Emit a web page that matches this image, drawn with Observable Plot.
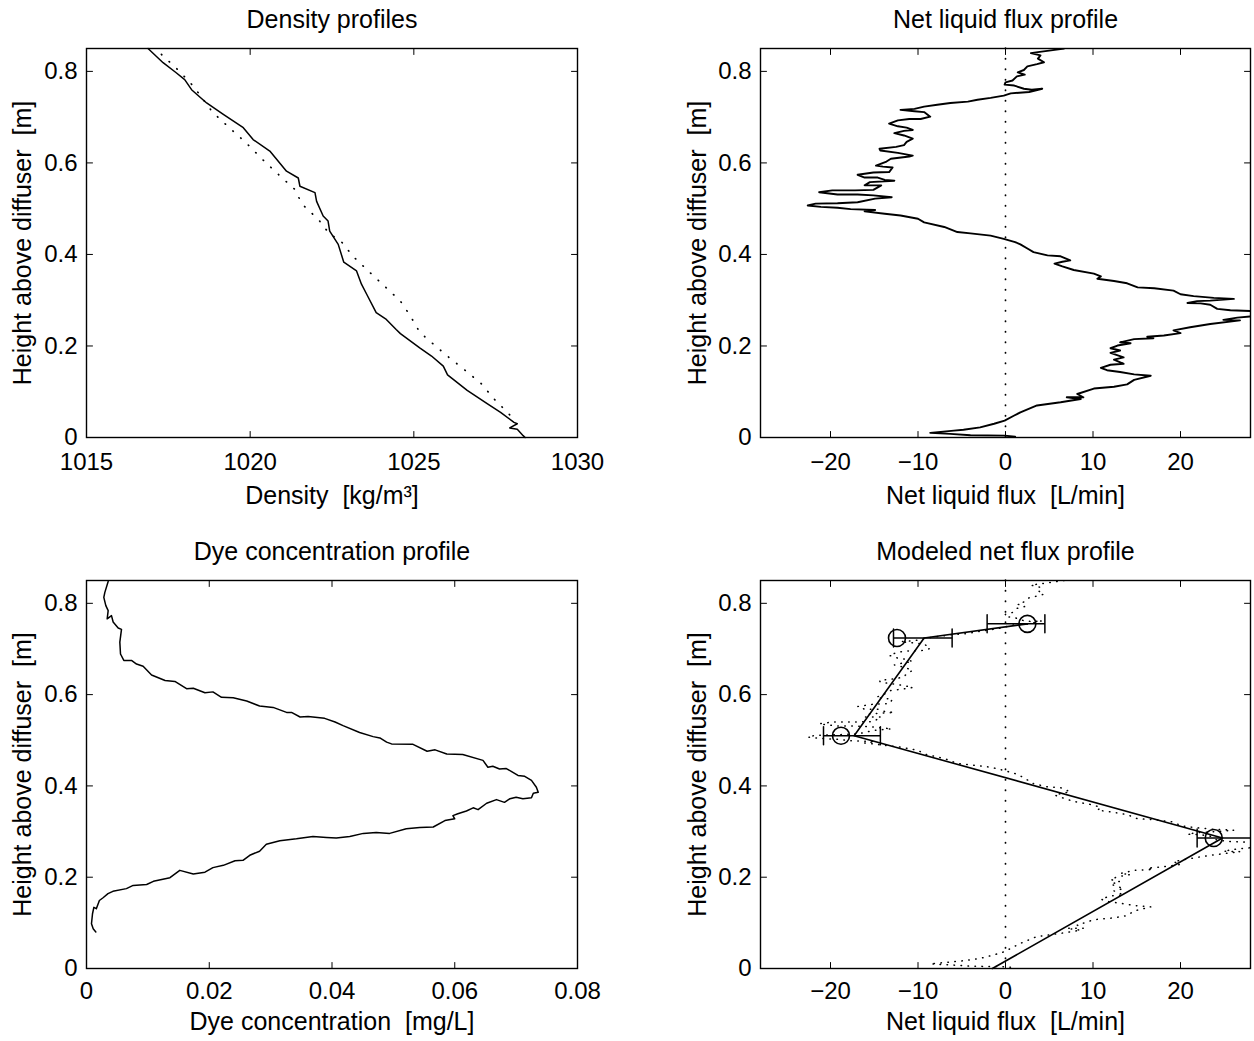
<!DOCTYPE html>
<html><head><meta charset="utf-8">
<script src="https://cdn.jsdelivr.net/npm/d3@7"></script>
<script src="https://cdn.jsdelivr.net/npm/@observablehq/plot@0.6"></script>
<style>
html,body{margin:0;padding:0;background:#fff;}
#wrap{position:relative;width:1254px;height:1041px;overflow:hidden;background:#fff;}
#wrap svg{position:absolute;}
</style></head><body><div id="wrap"></div>
<script>
// ---------- data ----------
// Panel 1: density profiles [density kg/m3, height m]
const densityMeasured = [[1016.88,0.850],[1017.34,0.819],[1017.74,0.797],[1018.00,0.782],[1018.21,0.760],[1018.67,0.731],[1019.18,0.706],[1019.79,0.677],[1020.09,0.651],[1020.60,0.626],[1021.11,0.582],[1021.47,0.567],[1021.52,0.549],[1021.98,0.535],[1022.03,0.516],[1022.23,0.484],[1022.38,0.473],[1022.43,0.451],[1022.69,0.422],[1022.86,0.383],[1023.25,0.364],[1023.40,0.335],[1023.56,0.313],[1023.85,0.273],[1024.16,0.258],[1024.46,0.236],[1024.59,0.227],[1025.18,0.196],[1025.54,0.178],[1025.90,0.156],[1026.03,0.137],[1026.63,0.103],[1027.24,0.074],[1027.65,0.055],[1028.06,0.033],[1028.16,0.030],[1027.93,0.021],[1028.16,0.018],[1028.34,0.004],[1028.40,0.000]];
const densityReference = [[1017.29,0.837],[1017.80,0.803],[1018.26,0.768],[1018.85,0.711],[1019.36,0.677],[1019.86,0.645],[1020.37,0.608],[1020.86,0.575],[1021.35,0.543],[1021.60,0.509],[1022.09,0.476],[1022.43,0.444],[1022.74,0.432],[1023.14,0.396],[1023.62,0.363],[1024.10,0.331],[1024.59,0.298],[1024.90,0.265],[1025.18,0.230],[1025.66,0.200],[1026.09,0.174],[1026.53,0.149],[1027.07,0.117],[1027.44,0.085],[1027.90,0.052],[1028.11,0.033]];

// Panel 2 (and dotted in panel 4): net liquid flux [L/min, height m]
const netFlux = [[6.7,0.850],[5.2,0.846],[3.7,0.842],[2.9,0.840],[4.0,0.835],[3.7,0.828],[4.4,0.820],[3.6,0.816],[2.5,0.811],[2.1,0.803],[1.4,0.798],[2.2,0.793],[1.3,0.789],[0.8,0.780],[0.0,0.776],[-0.1,0.771],[1.0,0.769],[2.1,0.762],[3.0,0.760],[4.2,0.762],[2.7,0.755],[0.6,0.752],[-0.2,0.747],[-1.7,0.742],[-3.2,0.738],[-4.3,0.734],[-6.3,0.731],[-7.8,0.727],[-9.3,0.723],[-10.4,0.718],[-12.0,0.716],[-10.4,0.713],[-9.3,0.711],[-8.6,0.701],[-9.7,0.696],[-11.0,0.696],[-12.3,0.693],[-13.3,0.686],[-12.3,0.680],[-11.3,0.677],[-10.6,0.672],[-11.6,0.670],[-12.7,0.665],[-11.6,0.660],[-10.6,0.653],[-11.3,0.646],[-11.6,0.639],[-12.5,0.635],[-14.4,0.631],[-14.3,0.627],[-12.3,0.622],[-10.6,0.616],[-11.0,0.614],[-13.1,0.609],[-13.6,0.603],[-14.8,0.594],[-14.0,0.592],[-12.9,0.590],[-13.3,0.580],[-15.1,0.579],[-16.9,0.574],[-16.1,0.568],[-14.6,0.568],[-13.8,0.563],[-12.7,0.561],[-15.5,0.558],[-16.1,0.551],[-14.2,0.551],[-15.1,0.541],[-17.2,0.540],[-19.8,0.540],[-21.3,0.536],[-19.2,0.531],[-16.9,0.531],[-15.1,0.529],[-13.0,0.525],[-14.9,0.522],[-16.9,0.514],[-19.2,0.512],[-21.7,0.511],[-22.6,0.507],[-21.1,0.504],[-19.2,0.502],[-17.7,0.499],[-14.9,0.497],[-16.1,0.494],[-13.8,0.489],[-12.0,0.485],[-10.0,0.478],[-9.3,0.470],[-7.0,0.460],[-5.5,0.449],[-4.0,0.446],[-1.7,0.441],[-0.2,0.434],[1.1,0.427],[1.7,0.422],[2.6,0.412],[3.2,0.405],[4.8,0.398],[6.3,0.396],[7.4,0.387],[6.5,0.384],[5.6,0.380],[6.5,0.374],[7.8,0.366],[10.1,0.358],[10.9,0.352],[10.5,0.347],[12.4,0.342],[13.9,0.337],[15.1,0.328],[17.0,0.326],[19.2,0.321],[20.0,0.313],[21.5,0.309],[23.8,0.305],[26.1,0.303],[23.4,0.299],[21.9,0.298],[20.8,0.294],[22.3,0.293],[23.4,0.290],[24.2,0.281],[25.7,0.278],[28.5,0.276],[29.5,0.267],[26.5,0.262],[24.9,0.257],[26.8,0.256],[23.4,0.248],[21.1,0.241],[19.2,0.234],[20.0,0.228],[18.1,0.223],[16.2,0.220],[16.9,0.217],[14.7,0.215],[13.1,0.208],[14.3,0.206],[12.8,0.201],[12.0,0.195],[13.1,0.190],[12.0,0.185],[13.5,0.175],[12.4,0.170],[13.5,0.161],[12.0,0.159],[10.9,0.152],[11.6,0.147],[13.1,0.143],[14.7,0.138],[16.6,0.135],[14.7,0.126],[13.9,0.116],[12.4,0.111],[10.1,0.107],[8.2,0.095],[8.9,0.088],[7.0,0.088],[8.6,0.084],[6.3,0.077],[3.6,0.070],[1.7,0.055],[1.0,0.048],[-0.1,0.037],[-1.3,0.030],[-2.9,0.022],[-4.8,0.017],[-5.9,0.015],[-8.6,0.010],[-6.3,0.008],[-4.0,0.005],[-0.1,0.004],[1.1,0.002]];

// Panel 3: dye concentration [mg/L, height m]
const dyeProfile = [[0.00353,0.848],[0.00299,0.824],[0.00282,0.813],[0.00315,0.795],[0.00353,0.784],[0.00337,0.766],[0.00407,0.773],[0.00434,0.759],[0.00516,0.746],[0.0057,0.743],[0.00543,0.715],[0.00554,0.689],[0.00608,0.675],[0.00733,0.675],[0.00815,0.667],[0.00923,0.662],[0.0106,0.643],[0.0128,0.631],[0.0144,0.629],[0.0163,0.613],[0.0174,0.614],[0.0193,0.604],[0.0206,0.606],[0.0220,0.594],[0.0239,0.593],[0.0261,0.586],[0.0282,0.575],[0.0304,0.572],[0.0326,0.561],[0.0334,0.561],[0.0348,0.551],[0.0361,0.552],[0.0388,0.548],[0.0405,0.540],[0.0418,0.532],[0.0445,0.517],[0.0467,0.508],[0.0478,0.505],[0.0489,0.496],[0.0497,0.492],[0.0532,0.491],[0.0555,0.476],[0.0568,0.479],[0.0587,0.470],[0.0613,0.469],[0.0646,0.456],[0.0654,0.441],[0.0662,0.443],[0.0673,0.437],[0.0684,0.438],[0.0692,0.432],[0.0703,0.423],[0.0714,0.421],[0.0725,0.412],[0.0733,0.397],[0.0736,0.386],[0.0728,0.384],[0.0725,0.374],[0.0711,0.372],[0.0700,0.375],[0.0690,0.372],[0.0681,0.364],[0.0668,0.370],[0.0652,0.362],[0.0638,0.348],[0.0630,0.352],[0.0619,0.345],[0.0605,0.339],[0.0597,0.335],[0.0600,0.328],[0.0584,0.324],[0.0565,0.310],[0.0543,0.309],[0.0521,0.306],[0.0494,0.296],[0.0472,0.298],[0.0451,0.296],[0.0429,0.289],[0.0407,0.286],[0.0391,0.287],[0.0369,0.289],[0.0342,0.284],[0.0315,0.280],[0.0293,0.272],[0.0282,0.257],[0.0266,0.248],[0.0255,0.237],[0.0242,0.236],[0.0223,0.226],[0.0206,0.221],[0.0193,0.211],[0.0174,0.207],[0.0152,0.215],[0.0136,0.199],[0.0109,0.191],[0.0098,0.184],[0.0076,0.182],[0.0065,0.175],[0.0043,0.169],[0.0035,0.164],[0.0027,0.155],[0.0021,0.149],[0.0016,0.131],[0.0012,0.134],[0.00098,0.120],[0.00081,0.098],[0.00109,0.087],[0.00152,0.080]];

// Panel 4: modeled net flux
const modelLine = [[-1.5,0.000],[24.8,0.286],[-17.3,0.510],[-9.3,0.724],[2.5,0.755]];
const modelPoints = [[23.8,0.286],[-18.8,0.510],[-12.4,0.724],[2.5,0.755]];
const modelErrLow = [21.9,-20.8,-12.8,-2.1];
const modelErrHigh = [29.0,-14.3,-6.1,4.5];

// ticks and labels
const heightTicks = [0,0.2,0.4,0.6,0.8];
const densityTicks = [1015,1020,1025,1030];
const fluxTicks = [-20,-10,0,10,20];
const dyeTicks = [0,0.02,0.04,0.06,0.08];
const titles = ["Density profiles","Net liquid flux profile","Dye concentration profile","Modeled net flux profile"];
const xLabels = ["Density \u00a0[kg/m\u00b3]","Net liquid flux \u00a0[L/min]","Dye concentration \u00a0[mg/L]","Net liquid flux \u00a0[L/min]"];
const yLabel = "Height above diffuser \u00a0[m]";

// ---------- drawing ----------
const FONT = "'Liberation Sans', Arial, Helvetica, sans-serif";
const tickShape = {draw(context, l) { context.moveTo(0, 0); context.lineTo(0, -l); }};
const fmt = d => d < 0 ? "\u2212" + Math.abs(d) : String(d);

function frameTicks(xDomain, yDomain, xTicks, yTicks) {
  const o = {length: 6, anchor: "start", shape: tickShape, stroke: "black", strokeWidth: 1};
  return [
    Plot.vector(xTicks, {...o, x: d => d, y: () => yDomain[0], rotate: 0}),
    Plot.vector(xTicks, {...o, x: d => d, y: () => yDomain[1], rotate: 180}),
    Plot.vector(yTicks, {...o, y: d => d, x: () => xDomain[0], rotate: 90}),
    Plot.vector(yTicks, {...o, y: d => d, x: () => xDomain[1], rotate: -90})
  ];
}

function panel({left, top, mLeft, mTop, mRight, mBottom, height, xDomain, xTicks, title, xLabel, xPad, xLabDy, yLabDx, marks}) {
  const yDomain = [0, 0.85];
  const p = Plot.plot({
    width: 627, height,
    marginLeft: mLeft, marginTop: mTop, marginRight: mRight, marginBottom: mBottom,
    style: {fontFamily: FONT, fontSize: "24px", color: "black", background: "transparent", overflow: "visible"},
    x: {domain: xDomain, axis: null},
    y: {domain: yDomain, axis: null},
    marks: [
      ...marks,
      Plot.frame({stroke: "black", strokeWidth: 1.4}),
      ...frameTicks(xDomain, yDomain, xTicks, heightTicks),
      Plot.axisX({ticks: xTicks, tickSize: 0, tickPadding: xPad, tickFormat: fmt, fontSize: 24, label: null}),
      Plot.axisY({ticks: heightTicks, tickSize: 0, tickPadding: 9, tickFormat: fmt, fontSize: 24, label: null}),
      Plot.text([title], {text: d => d, frameAnchor: "top", lineAnchor: "bottom", dy: -21, fontSize: 25}),
      Plot.text([xLabel], {text: d => d, frameAnchor: "bottom", lineAnchor: "bottom", dy: xLabDy, fontSize: 25}),
      Plot.text([yLabel], {text: d => d, frameAnchor: "left", textAnchor: "middle", lineAnchor: "bottom", rotate: -90, dx: yLabDx, fontSize: 25})
    ]
  });
  p.style.left = left + "px";
  p.style.top = top + "px";
  document.getElementById("wrap").appendChild(p);
}

const X = d => d[0], Y = d => d[1];

// Top-left: density
panel({left: 0, top: 0, mLeft: 86, mTop: 48, mRight: 50, mBottom: 83, height: 520,
  xDomain: [1015, 1030], xTicks: densityTicks, title: titles[0], xLabel: xLabels[0], xPad: 15, xLabDy: 66, yLabDx: -56,
  marks: [
    Plot.line(densityReference, {x: X, y: Y, stroke: "black", strokeWidth: 1.7, strokeDasharray: "0.5,10", strokeLinecap: "round"}),
    Plot.line(densityMeasured, {x: X, y: Y, stroke: "black", strokeWidth: 1.5})
  ]});

// Top-right: net liquid flux
panel({left: 627, top: 0, mLeft: 133, mTop: 48, mRight: 4, mBottom: 83, height: 520,
  xDomain: [-28, 28], xTicks: fluxTicks, title: titles[1], xLabel: xLabels[1], xPad: 15, xLabDy: 66, yLabDx: -55,
  marks: [
    Plot.ruleX([0], {stroke: "black", strokeWidth: 1.7, strokeDasharray: "0.5,10", strokeLinecap: "round"}),
    Plot.line(netFlux, {x: X, y: Y, stroke: "black", strokeWidth: 1.9, clip: true})
  ]});

// Bottom-left: dye concentration
panel({left: 0, top: 520, mLeft: 86, mTop: 60, mRight: 50, mBottom: 73, height: 521,
  xDomain: [0, 0.08], xTicks: dyeTicks, title: titles[2], xLabel: xLabels[2], xPad: 13, xLabDy: 61, yLabDx: -56,
  marks: [
    Plot.line(dyeProfile, {x: X, y: Y, stroke: "black", strokeWidth: 1.5})
  ]});

// Bottom-right: modeled net flux
const errRows = modelPoints.map((d, i) => ({y: d[1], lo: modelErrLow[i], hi: modelErrHigh[i]}));
const caps = errRows.flatMap(r => [r.lo, r.hi].filter(v => v <= 28).map(v => ({x: v, y: r.y})));
panel({left: 627, top: 520, mLeft: 133, mTop: 60, mRight: 4, mBottom: 73, height: 521,
  xDomain: [-28, 28], xTicks: fluxTicks, title: titles[3], xLabel: xLabels[3], xPad: 13, xLabDy: 61, yLabDx: -55,
  marks: [
    Plot.ruleX([0], {stroke: "black", strokeWidth: 1.7, strokeDasharray: "0.5,10", strokeLinecap: "round"}),
    Plot.line(netFlux, {x: X, y: Y, stroke: "black", strokeWidth: 1.5, strokeDasharray: "0.5,6.5", strokeLinecap: "round", clip: true}),
    Plot.link(errRows, {x1: "lo", x2: "hi", y1: "y", y2: "y", stroke: "black", strokeWidth: 1.5, clip: true}),
    Plot.vector(caps, {x: "x", y: "y", length: 18, anchor: "middle", shape: tickShape, rotate: 0, stroke: "black", strokeWidth: 1.5}),
    Plot.line(modelLine, {x: X, y: Y, stroke: "black", strokeWidth: 1.6}),
    Plot.dot(modelPoints, {x: X, y: Y, r: 8.5, stroke: "black", strokeWidth: 1.6, fill: "none"})
  ]});
</script>
</body></html>
